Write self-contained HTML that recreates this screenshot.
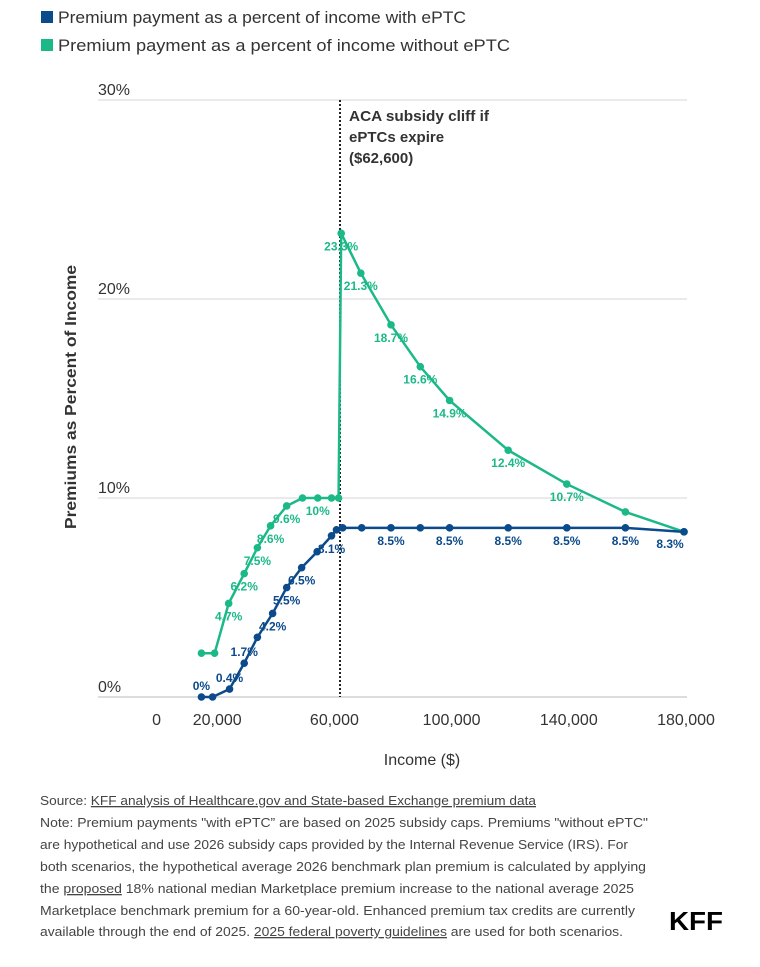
<!DOCTYPE html>
<html><head><meta charset="utf-8"><style>
html,body{margin:0;padding:0;background:#fff;}
svg{display:block;font-family:"Liberation Sans",sans-serif;}
</style></head><body>
<svg id="chart" width="760" height="967" viewBox="0 0 760 967">
<g>
 <rect x="41" y="11" width="12" height="12" fill="#0b4a8b"/>
 <text x="58" y="23" font-size="17" fill="#333" textLength="408" lengthAdjust="spacingAndGlyphs">Premium payment as a percent of income with ePTC</text>
 <rect x="41" y="39" width="12" height="12" fill="#1cb988"/>
 <text x="58" y="51" font-size="17" fill="#333" textLength="452" lengthAdjust="spacingAndGlyphs">Premium payment as a percent of income without ePTC</text>
</g>
<g id="grid"></g>
<g id="marks"></g>
<text x="422" y="765" font-size="16" fill="#333" text-anchor="middle">Income ($)</text>
<text transform="translate(76,397) rotate(-90)" font-size="16" font-weight="bold" fill="#333" text-anchor="middle" textLength="264" lengthAdjust="spacingAndGlyphs">Premiums as Percent of Income</text>
<g font-size="15" font-weight="bold" fill="#333">
 <text x="349" y="121" textLength="140" lengthAdjust="spacingAndGlyphs">ACA subsidy cliff if</text>
 <text x="349" y="142">ePTCs expire</text>
 <text x="349" y="163">($62,600)</text>
</g>
<g font-size="13" fill="#444">
 <text x="40" y="805" textLength="496" lengthAdjust="spacingAndGlyphs">Source: <tspan text-decoration="underline">KFF analysis of Healthcare.gov and State-based Exchange premium data</tspan></text>
 <text x="40" y="827" textLength="608" lengthAdjust="spacingAndGlyphs">Note: Premium payments "with ePTC” are based on 2025 subsidy caps. Premiums "without ePTC"</text>
 <text x="40" y="849" textLength="588" lengthAdjust="spacingAndGlyphs">are hypothetical and use 2026 subsidy caps provided by the Internal Revenue Service (IRS). For</text>
 <text x="40" y="871" textLength="606" lengthAdjust="spacingAndGlyphs">both scenarios, the hypothetical average 2026 benchmark plan premium is calculated by applying</text>
 <text x="40" y="893" textLength="594" lengthAdjust="spacingAndGlyphs">the <tspan text-decoration="underline">proposed</tspan> 18% national median Marketplace premium increase to the national average 2025</text>
 <text x="40" y="915" textLength="595" lengthAdjust="spacingAndGlyphs">Marketplace benchmark premium for a 60-year-old. Enhanced premium tax credits are currently</text>
 <text x="40" y="936" textLength="583" lengthAdjust="spacingAndGlyphs">available through the end of 2025. <tspan text-decoration="underline">2025 federal poverty guidelines</tspan> are used for both scenarios.</text>
</g>
<text x="669" y="930" font-size="26" font-weight="bold" fill="#000" textLength="54" lengthAdjust="spacingAndGlyphs">KFF</text>
</svg>
<script>
const xTicks=[0,20000,60000,100000,140000,180000];
const xTickLabels=["0","20,000","60,000","100,000","140,000","180,000"];
const yTicks=[0,10,20,30];
const yTickLabels=["0%","10%","20%","30%"];
const cliffIncome=62600;
const withIncome=[15300,19100,24900,29900,34400,39600,44400,49500,54800,59700,61400,63500,70000,80000,90000,100000,120000,140000,160000,180000];
const withValues=[0,0,0.4,1.7,3.0,4.2,5.5,6.5,7.3,8.1,8.4,8.5,8.5,8.5,8.5,8.5,8.5,8.5,8.5,8.3];
const withLabels=["0%","","0.4%","1.7%","","4.2%","5.5%","6.5%","","8.1%","","","","8.5%","","8.5%","8.5%","8.5%","8.5%","8.3%"];
const withLabelSide=["a","a","a","a","b","b","b","b","b","b","b","b","b","b","b","b","b","b","b","bl"];
const withoutIncome=[15300,19800,24600,29900,34400,38900,44400,49800,55000,59700,62100,63000,69700,80000,90000,100000,120000,140000,160000,180000];
const withoutValues=[2.2,2.2,4.7,6.2,7.5,8.6,9.6,10,10,10,10,23.3,21.3,18.7,16.6,14.9,12.4,10.7,9.3,8.3];
const withoutLabels=["","","4.7%","6.2%","7.5%","8.6%","9.6%","","10%","","","23.3%","21.3%","18.7%","16.6%","14.9%","12.4%","10.7%","",""];
const NS="http://www.w3.org/2000/svg";
const x=v=>156.6+v*0.00293;
const y=v=>697-v*19.9;
function mk(tag,attrs,parent){const e=document.createElementNS(NS,tag);for(const k in attrs)e.setAttribute(k,attrs[k]);parent.appendChild(e);return e;}
const grid=document.getElementById('grid'),marks=document.getElementById('marks');
yTicks.forEach((t,i)=>{
 const l=mk('line',{x1:98,x2:687,y1:y(t),y2:y(t),stroke:t===0?'#bbb':'#d6d6d6','stroke-width':1},grid);
 
 
 const tx=mk('text',{x:98,y:y(t)-5,'font-size':16,fill:'#333'},grid);tx.textContent=yTickLabels[i];
 
 
});
xTicks.forEach((t,i)=>{
 const tx=mk('text',{x:x(t)+(t===0?0:2),y:725,'font-size':16,fill:'#333','text-anchor':'middle'},grid);tx.textContent=xTickLabels[i];
 
 
});
const cl=mk('line',{x1:x(cliffIncome),x2:x(cliffIncome),y1:100,y2:697,stroke:'#222','stroke-width':2,'stroke-dasharray':'2,2'},grid);


function series(inc,vals,labels,color,name,sides){
 const p=mk('polyline',{points:inc.map((d,i)=>x(d)+','+y(vals[i])).join(' '),fill:'none',stroke:color,'stroke-width':2.5},marks);
 
 
 inc.forEach((d,i)=>{
  const c=mk('circle',{cx:x(d),cy:y(vals[i]),r:3.8,fill:color},marks);
  
  
  if(labels[i]){
   const s=sides?sides[i]:'b';
   let lx=x(d),ly=y(vals[i])+17;
   if(s==='a'){ly=y(vals[i])-7;}
   if(s==='bl'){lx=x(d)-14;ly=y(vals[i])+16;}
   const t=mk('text',{x:lx,y:ly,'font-size':12,'font-weight':'bold',fill:color,'text-anchor':'middle'},marks);
   t.textContent=labels[i];
   
   
  }
 });
}
series(withoutIncome,withoutValues,withoutLabels,'#1cb988','without-eptc',null);
series(withIncome,withValues,withLabels,'#0b4a8b','with-eptc',withLabelSide);
</script>
</body></html>
